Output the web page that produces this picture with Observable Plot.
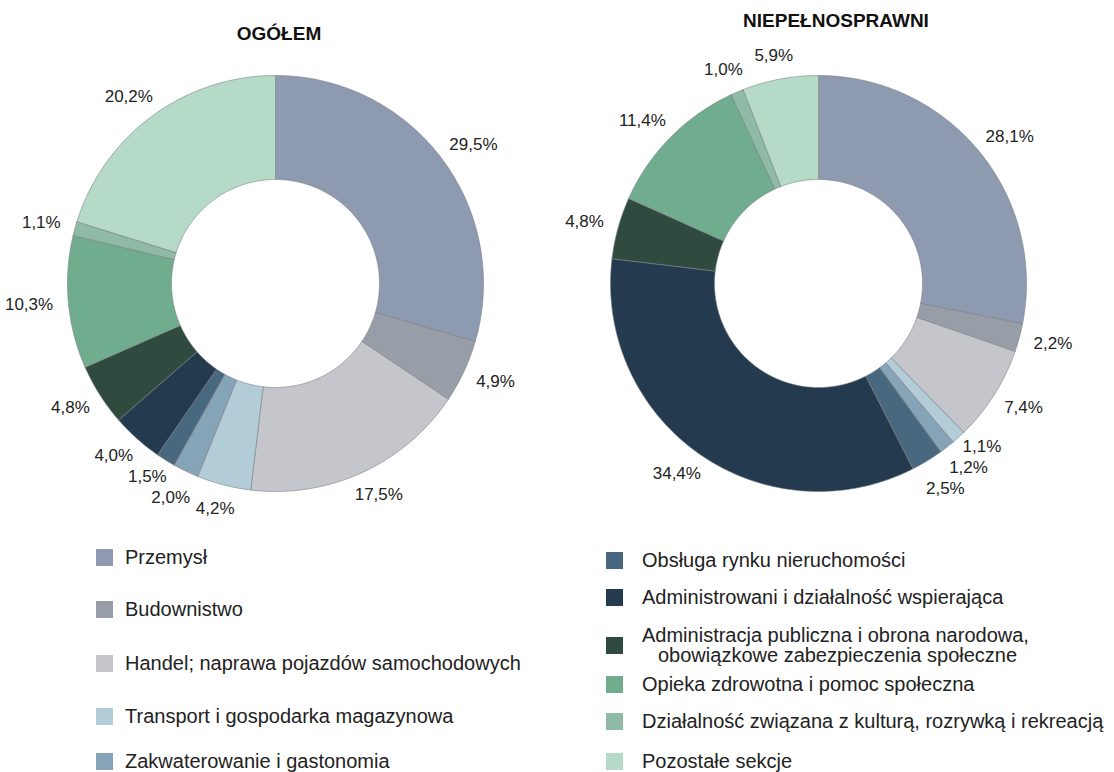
<!DOCTYPE html>
<html><head><meta charset="utf-8">
<script src="https://cdn.jsdelivr.net/npm/d3@7"></script>
<script src="https://cdn.jsdelivr.net/npm/@observablehq/plot@0.6"></script>
<style>
body{margin:0;background:#fff;font-family:Arial,"Liberation Sans",sans-serif;color:#222;}
#wrap{position:relative;width:1114px;height:772px;overflow:hidden;}
#charts{position:absolute;left:0;top:0;display:flex;}
.leg{position:absolute;display:flex;align-items:center;font-size:20px;white-space:nowrap;}
.sw{width:17px;height:17px;flex:none;}
</style></head><body><div id="wrap"><div id="charts"></div></div>
<script>
const categories = [
  "Przemysł",
  "Budownistwo",
  "Handel; naprawa pojazdów samochodowych",
  "Transport i gospodarka magazynowa",
  "Zakwaterowanie i gastonomia",
  "Obsługa rynku nieruchomości",
  "Administrowani i działalność wspierająca",
  "Administracja publiczna i obrona narodowa,\nobowiązkowe zabezpieczenia społeczne",
  "Opieka zdrowotna i pomoc społeczna",
  "Działalność związana z kulturą, rozrywką i rekreacją",
  "Pozostałe sekcje"
];
const ogolem = [29.5, 4.9, 17.5, 4.2, 2.0, 1.5, 4.0, 4.8, 10.3, 1.1, 20.2];
const niepelnosprawni = [28.1, 2.2, 7.4, 1.1, 1.2, 2.5, 34.4, 4.8, 11.4, 1.0, 5.9];
const colors = ["#8e9ab0","#979ea7","#c5c6cb","#b3cdd8","#86a4b7","#48687f","#243a4f","#2f4a3e","#6fad8e","#8fbaa5","#b5dbc8"];
const titles = ["OGÓŁEM", "NIEPEŁNOSPRAWNI"];

const R = 208;          // outer radius in px
const INNER = 0.5;      // inner radius fraction
const W = 557, H = 530, CY = 283;
const LABEL_SIZE = 17;

function chart(values, title, cx, titleDy) {
  const rows = [];
  const labels = [];
  let cum = 0;
  values.forEach((v, i) => {
    const a0 = cum / 100 * 2 * Math.PI;
    cum += v;
    const a1 = cum / 100 * 2 * Math.PI;
    const n = Math.max(4, Math.ceil((a1 - a0) / 0.01));
    const pts = [];
    for (let k = 0; k <= n; k++) { const a = a0 + (a1 - a0) * k / n; pts.push([Math.sin(a), Math.cos(a)]); }
    for (let k = n; k >= 0; k--) { const a = a0 + (a1 - a0) * k / n; pts.push([INNER * Math.sin(a), INNER * Math.cos(a)]); }
    pts.push(pts[0]);
    pts.forEach(([x, y]) => rows.push({cat: categories[i], x, y}));
    const am = (a0 + a1) / 2;
    const txt = v.toFixed(1).replace(".", ",") + "%";
    const w = txt.length * 9.4, hh = 8, d = 16;
    labels.push({
      text: txt, w,
      px: Math.sin(am) * (R + d + w / 2),
      py: Math.cos(am) * (R + d + hh)
    });
  });
  // simple collision relaxation (vertical)
  const SEP = 21;
  for (let it = 0; it < 60; it++) {
    for (let i = 0; i < labels.length; i++) for (let j = i + 1; j < labels.length; j++) {
      const A = labels[i], B = labels[j];
      const dx = Math.abs(A.px - B.px), dy = A.py - B.py;
      if (dx < (A.w + B.w) / 2 && Math.abs(dy) < SEP) {
        const push = (SEP - Math.abs(dy)) / 2;
        const s = dy >= 0 ? 1 : -1;
        A.py += s * push; B.py -= s * push;
      }
    }
  }
  labels.forEach(l => { l.x = l.px / R; l.y = l.py / R; });
  return Plot.plot({
    width: W, height: H, margin: 0,
    x: {domain: [-cx / R, (W - cx) / R], axis: null},
    y: {domain: [-(H - CY) / R, CY / R], axis: null},
    color: {domain: categories, range: colors},
    style: {fontFamily: "Arial, 'Liberation Sans', sans-serif", overflow: "visible"},
    marks: [
      Plot.line(rows, {x: "x", y: "y", z: "cat", fill: "cat", stroke: "#7c7f86", strokeWidth: 0.6, curve: "linear"}),
      Plot.text(labels, {x: "x", y: "y", text: "text", fontSize: LABEL_SIZE, fill: "#222", textAnchor: "middle"}),
      Plot.text([title], {frameAnchor: "top", dy: titleDy, text: d => d, fontSize: 19, fontWeight: "bold", fill: "#111"})
    ]
  });
}

const box = document.getElementById("charts");
box.append(chart(ogolem, titles[0], 275, 26));
box.append(chart(niepelnosprawni, titles[1], 818 - W, 13));

// legend
const wrap = document.getElementById("wrap");
const leftRows = [557, 609, 663, 716, 761];
const rightRows = [560, 597, 645, 684, 721, 761];
categories.forEach((c, i) => {
  const left = i < 5;
  const cy = left ? leftRows[i] : rightRows[i - 5];
  const div = document.createElement("div");
  div.className = "leg";
  const lines = c.split("\n");
  const h = lines.length * 20 + 2;
  div.style.left = (left ? 96 : 606) + "px";
  div.style.top = (cy - h / 2) + "px";
  div.style.height = h + "px";
  const sw = document.createElement("div");
  sw.className = "sw";
  sw.style.background = colors[i];
  const t = document.createElement("div");
  t.style.marginLeft = (left ? 12 : 19) + "px";
  t.style.lineHeight = "20px";
  lines.forEach((ln, k) => {
    const l = document.createElement("div");
    l.textContent = ln;
    if (k > 0) l.style.paddingLeft = "16px";
    t.append(l);
  });
  div.append(sw, t);
  wrap.append(div);
});
</script></body></html>
